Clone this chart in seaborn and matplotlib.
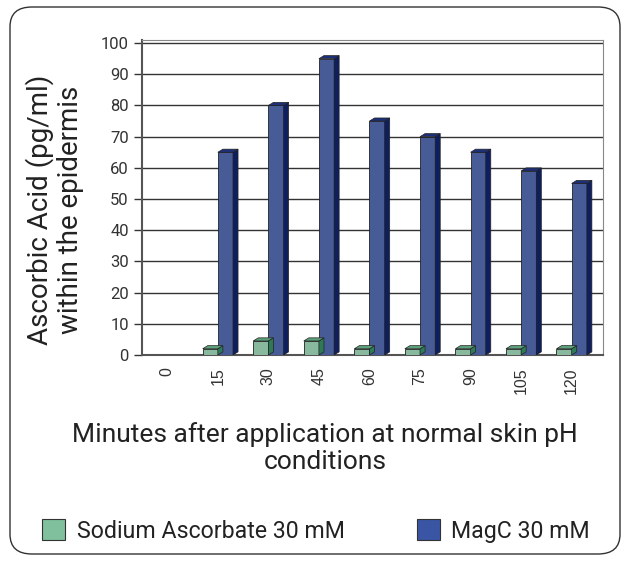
import numpy as np
import pandas as pd
import seaborn as sns
import matplotlib
matplotlib.use("Agg")
import matplotlib.pyplot as plt
from matplotlib.patches import Polygon, FancyBboxPatch, Patch

# data
minutes = ["0", "15", "30", "45", "60", "75", "90", "105", "120"]
sodium_ascorbate = [0, 2, 4.5, 4.5, 2, 2, 2, 2, 2]
magc = [0, 65, 80, 95, 75, 70, 65, 59, 55]
series_names = ["Sodium Ascorbate 30 mM", "MagC 30 mM"]

face_cols = ["#80c09c", "#3a55a4"]
side_cols = ["#2f7a56", "#0f1f5e"]
top_cols = ["#5aa07a", "#1d2f78"]

df = pd.DataFrame({
    "Minutes": minutes * 2,
    "Value": sodium_ascorbate + magc,
    "Series": [series_names[0]] * len(minutes) + [series_names[1]] * len(minutes),
})

sns.set_style("white")
plt.rcParams["font.family"] = ["Roboto", "DejaVu Sans"]

fig = plt.figure(figsize=(6.28, 5.62), dpi=100)
ax = fig.add_axes([142 / 628, 1 - 355 / 562, (603 - 142) / 628, (355 - 40) / 562])

sns.barplot(data=df, x="Minutes", y="Value", hue="Series", order=minutes,
            hue_order=series_names, palette=face_cols, width=0.6,
            edgecolor="#222222", linewidth=0.6, legend=False, ax=ax, zorder=3)

# fake 3D depth: side and top faces offset from each bar
dx, dy = 0.1, 1.0
for i, cont in enumerate(ax.containers):
    for p in cont:
        x0, y0 = p.get_x(), p.get_y()
        w, h = p.get_width(), p.get_height()
        if h <= 0:
            continue
        side = Polygon([(x0 + w, y0), (x0 + w + dx, y0 + dy), (x0 + w + dx, h + dy), (x0 + w, h)],
                       closed=True, facecolor=side_cols[i], edgecolor="#222222", lw=0.5, zorder=3)
        top = Polygon([(x0, h), (x0 + dx, h + dy), (x0 + w + dx, h + dy), (x0 + w, h)],
                      closed=True, facecolor=top_cols[i], edgecolor="#222222", lw=0.5, zorder=3)
        ax.add_patch(side)
        ax.add_patch(top)

ax.set_xlim(-0.5, 8.62)
ax.set_ylim(0, 101)
ax.set_yticks(np.arange(0, 101, 10))
ax.yaxis.grid(True, color="#333333", lw=1.0)
ax.set_axisbelow(True)

ax.set_xticks(range(len(minutes)))
ax.set_xticklabels(minutes, rotation=90, fontsize=11.5, family=["Liberation Sans", "DejaVu Sans"],
                   color="#333333")
ax.tick_params(axis="x", which="major", length=0, pad=9)
ax.set_xticks(np.arange(-0.5, 8.6, 1), minor=True)
ax.tick_params(axis="x", which="minor", length=6, width=1, color="#333333", direction="out")
ax.tick_params(axis="y", length=6, width=1, color="#333333", direction="out", labelsize=12,
               labelcolor="#333333", left=True)

for s in ["top", "right"]:
    ax.spines[s].set_color("#888888")
ax.spines["left"].set_color("#555555")
ax.spines["bottom"].set_color("#555555")
ax.spines["left"].set_linewidth(1.5)
ax.spines["bottom"].set_linewidth(1.5)

ax.set_xlabel("Minutes after application at normal skin pH\nconditions", fontsize=19,
              color="#222222", linespacing=1.15)
ax.xaxis.set_label_coords((325 - 142) / 461, -(448 - 355) / 315)
ax.xaxis.label.set_verticalalignment("center")
ax.set_ylabel("Ascorbic Acid (pg/ml)\nwithin the epidermis", fontsize=20,
              color="#222222", linespacing=1.15)
ax.yaxis.set_label_coords(-(142 - 55) / 461, (355 - 210) / 315)
ax.yaxis.label.set_verticalalignment("center")

handles = [Patch(facecolor=face_cols[k], edgecolor="#333333", lw=0.8, label=series_names[k])
           for k in range(2)]
fig.legend(handles=handles, loc="center", bbox_to_anchor=(316 / 628, 1 - 531 / 562), ncol=2,
           frameon=False, fontsize=16.7, handlelength=1.0, handleheight=1.0,
           columnspacing=3.1, handletextpad=0.5, labelcolor="#222222")

border = FancyBboxPatch((10 / 628, 8 / 562), 610 / 628, 547 / 562,
                        boxstyle="round,pad=0,rounding_size=0.035", transform=fig.transFigure,
                        facecolor="none", edgecolor="#333333", lw=1.0)
fig.patches.append(border)

fig.savefig("out.png", dpi=100)
